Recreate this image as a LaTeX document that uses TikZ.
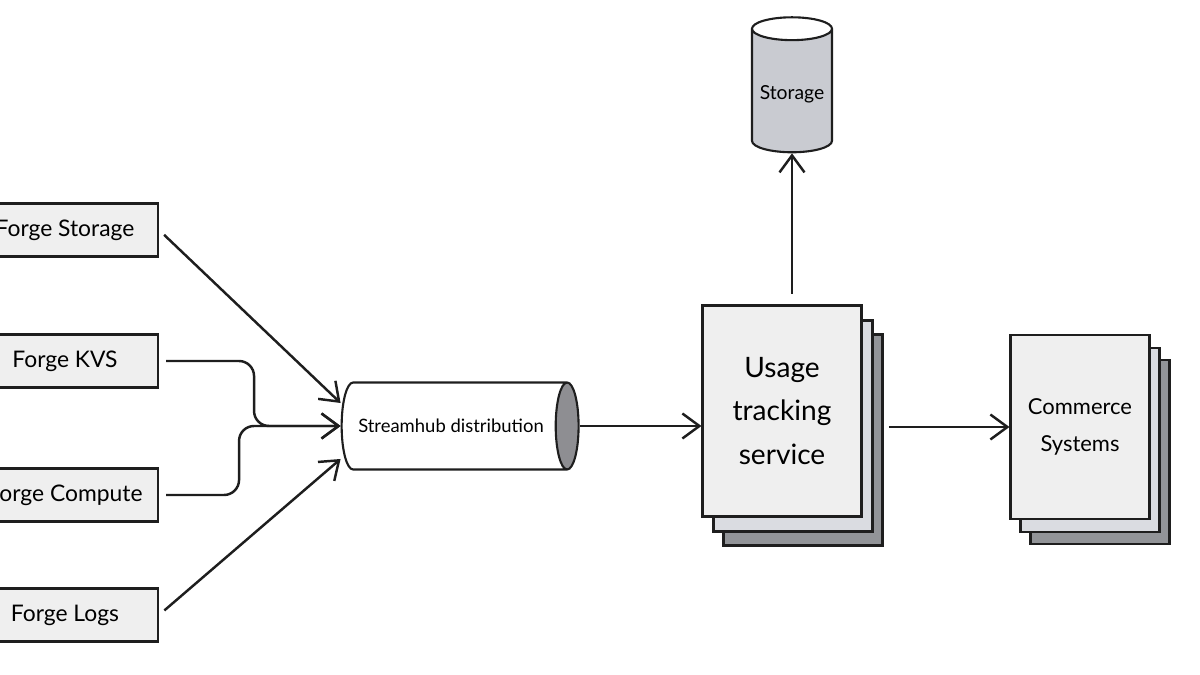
\documentclass[tikz,border=0pt]{standalone}
\usepackage{fontspec}
\setmainfont{Lato}
\usepackage{tikz}
\usetikzlibrary{shapes.geometric,arrows.meta,positioning,calc}
\definecolor{boxFill}{RGB}{239,239,239}
\definecolor{stackMid}{RGB}{218,220,225}
\definecolor{stackBack}{RGB}{146,148,152}
\definecolor{storeFill}{RGB}{201,203,209}
\definecolor{tubeEnd}{RGB}{142,142,146}
\definecolor{inkDark}{RGB}{30,30,30}

\tikzset{
  srcbox/.style={draw=inkDark, line width=1.2pt, fill=boxFill, minimum width=3.72cm, minimum height=1.06cm, font=\fontsize{13}{16}\selectfont},
  pagebox/.style={draw=inkDark, line width=1.2pt, minimum width=#1},
  flow/.style={-{Straight Barb[length=0.34cm,width=0.5cm]}, line width=1.4pt, inkDark}
}

\begin{document}
\begin{tikzpicture}[x=0.02cm, y=-0.02cm]
  \useasboundingbox (0,0) rectangle (1200,675);
  % sources
  \node[srcbox] (fstorage) at (65,230) {Forge Storage};
  \node[srcbox] (fkvs) at (65,361) {Forge KVS};
  \node[srcbox] (fcompute) at (65,495) {Forge Compute};
  \node[srcbox] (flogs) at (65,615) {Forge Logs};
  % distribution tube
  \node[cylinder, draw=inkDark, line width=1.2pt, aspect=0.9, minimum height=4.74cm, minimum width=1.74cm,
        cylinder uses custom fill, cylinder body fill=white, cylinder end fill=tubeEnd,
        font=\fontsize{10.5}{12}\selectfont] (stream) at (451,426) {Streamhub distribution\hspace{0.7cm}};
  % usage tracking stack
  \node[pagebox=3.18cm, minimum height=4.22cm, fill=stackBack] (usage3) at (803,440) {};
  \node[pagebox=3.18cm, minimum height=4.22cm, fill=stackMid] (usage2) at (793,426) {};
  \node[pagebox=3.18cm, minimum height=4.22cm, fill=boxFill, align=center,
        font=\fontsize{16}{25}\selectfont] (usage) at (782,411) {Usage\\tracking\\service};
  % commerce stack
  \node[pagebox=2.78cm, minimum height=3.68cm, fill=stackBack] (commerce3) at (1100,452) {};
  \node[pagebox=2.78cm, minimum height=3.68cm, fill=stackMid] (commerce2) at (1090,440) {};
  \node[pagebox=2.78cm, minimum height=3.68cm, fill=boxFill, align=center,
        font=\fontsize{12.5}{21}\selectfont] (commerce) at (1080,427) {Commerce\\Systems};
  % storage
  \node[cylinder, shape border rotate=90, draw=inkDark, line width=1.2pt, aspect=0.3,
        minimum height=2.7cm, minimum width=1.6cm,
        cylinder uses custom fill, cylinder body fill=storeFill, cylinder end fill=white,
        font=\fontsize{11}{13}\selectfont] (storage) at (792,94) {Storage};
  % connectors
  \draw[flow, shorten <=4pt] (fstorage.east) -- ([yshift=0.46cm]stream.west);
  \draw[flow, shorten <=4pt, rounded corners=0.3cm] (fkvs.east) -- ++(95,0) |- (stream.west);
  \draw[flow, shorten <=4pt, rounded corners=0.3cm] (fcompute.east) -- ++(80,0) |- (stream.west);
  \draw[flow, shorten <=4pt] (flogs.east) -- ([yshift=-0.66cm]stream.west);
  \draw[flow] (stream.east) -- (stream.east -| usage.west);
  \draw[flow, shorten <=6pt] (storage.south |- usage.north) -- (storage.south);
  \draw[flow, shorten <=3pt] (usage3.east |- commerce.west) -- (commerce.west);
\end{tikzpicture}
\end{document}
